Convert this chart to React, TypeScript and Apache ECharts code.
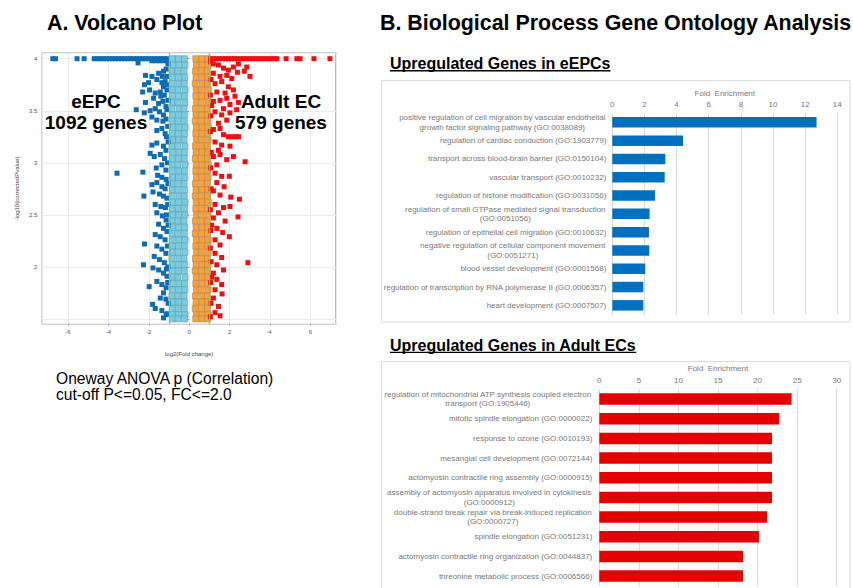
import React, { useEffect, useRef } from 'react';
import * as echarts from 'echarts';

const FONT = '"Liberation Sans", Arial, Helvetica, sans-serif';
const LABEL_GREY = '#787878';

// -log10(corrected p) is capped at this value, so the most significant genes sit on one row
const P_CAP = 4;
// |log2 fold change| threshold (FC 2.0)
const FC_CUTOFF_LOG2 = 1;

// genes up in eEPC at the p-value cap (log2 FC)
const eepcCapX = [-6.75, -6.62, -5.55, -5.2, -4.7, -4.55, -4.4, -4.25, -4.1, -3.95, -3.8, -3.65, -3.5, -3.35, -3.2,
  -3.05, -2.9, -2.75, -2.6, -2.45, -2.3, -2.15, -2.0, -1.85, -1.7, -1.55, -1.4, -1.25, -1.1];
// genes up in adult EC at the p-value cap (log2 FC)
const adultCapX = [1.06, 1.2, 1.35, 1.5, 1.65, 1.8, 1.95, 2.1, 2.25, 2.4, 2.55, 2.7, 2.85, 3.0, 3.15, 3.3, 3.45, 3.6,
  3.75, 3.9, 4.05, 4.2, 4.35, 4.8, 5.33, 5.49, 6.18, 6.97];

// [log2 FC, -log10 p] for significant eEPC genes below the cap
const eepcScatter = [
  [-2.53, 3.96], [-1.84, 3.98], [-1.63, 3.98], [-1.43, 3.98], [-1.19, 3.98], [-1.1, 3.99],
  [-2.16, 3.84], [-1.84, 3.83], [-1.51, 3.86], [-1.27, 3.88], [-1.14, 3.9], [-1.33, 3.83], [-1.1, 3.83],
  [-2.21, 3.75], [-2.01, 3.77], [-1.6, 3.8], [-1.35, 3.77], [-1.19, 3.78], [-1.27, 3.73],
  [-2.3, 3.68], [-1.96, 3.7], [-1.68, 3.67], [-1.43, 3.68], [-1.23, 3.65], [-1.1, 3.7],
  [-2.16, 3.58], [-1.76, 3.62], [-1.51, 3.57], [-1.3, 3.59], [-1.15, 3.54], [-1.4, 3.64],
  [-2.62, 3.51], [-2.22, 3.48], [-1.93, 3.5], [-1.68, 3.52], [-1.47, 3.49], [-1.27, 3.46], [-1.1, 3.51],
  [-1.84, 3.44], [-1.6, 3.41], [-1.3, 3.4], [-1.15, 3.42],
  [-1.6, 3.31], [-1.35, 3.33], [-1.19, 3.28],
  [-1.84, 3.17], [-1.6, 3.19], [-1.27, 3.16], [-1.15, 3.12],
  [-1.93, 3.09], [-1.73, 3.06], [-1.43, 3.08], [-1.22, 3.04],
  [-1.63, 2.95], [-1.35, 2.98], [-1.15, 2.93],
  [-3.57, 2.9], [-2.29, 2.91], [-1.56, 2.88], [-1.35, 2.86], [-1.14, 2.84],
  [-1.84, 2.79], [-1.6, 2.81], [-1.35, 2.77], [-1.19, 2.75],
  [-1.79, 2.72], [-1.47, 2.7], [-1.27, 2.68], [-2.24, 2.68], [-1.1, 2.66],
  [-1.68, 2.6], [-1.4, 2.58], [-1.17, 2.57],
  [-1.6, 2.52], [-1.33, 2.49], [-1.14, 2.45],
  [-1.51, 2.41], [-1.27, 2.37], [-1.1, 2.34],
  [-1.68, 2.31], [-1.43, 2.29], [-1.19, 2.26],
  [-2.21, 2.22], [-1.6, 2.2], [-1.35, 2.17], [-1.15, 2.13],
  [-1.73, 2.1], [-1.47, 2.07], [-1.23, 2.04],
  [-2.26, 2.02], [-1.79, 1.99], [-1.51, 1.97], [-1.27, 1.94], [-1.1, 1.91],
  [-1.6, 1.86], [-1.35, 1.83], [-1.14, 1.8],
  [-1.98, 1.81], [-1.27, 1.75], [-1.43, 1.7], [-1.15, 1.69],
  [-1.81, 1.64], [-1.68, 1.6], [-1.35, 1.58], [-1.14, 1.54], [-1.27, 1.51],
  [-1.05, 3.95], [-1.08, 3.75], [-1.05, 3.6], [-1.06, 3.35], [-1.04, 3.2], [-1.07, 3.0], [-1.05, 2.8],
  [-1.06, 2.6], [-1.04, 2.4], [-1.07, 2.2], [-1.05, 2.0], [-1.06, 1.85], [-1.04, 1.65], [-1.08, 1.55],
  [-1.12, 3.25], [-1.12, 2.5], [-1.12, 1.98],
];

// [log2 FC, -log10 p] for significant adult EC genes below the cap
const adultScatter = [
  [1.2, 3.95], [1.45, 3.94], [1.7, 3.91], [1.94, 3.89], [2.19, 3.92], [2.44, 3.95], [2.73, 3.88], [2.85, 3.92], [3.01, 3.83],
  [1.2, 3.86], [1.53, 3.83], [1.86, 3.84], [2.11, 3.81], [2.39, 3.87],
  [1.28, 3.76], [1.61, 3.78], [1.94, 3.73], [2.19, 3.7], [1.78, 3.67], [1.37, 3.68],
  [1.2, 3.59], [1.53, 3.6], [1.86, 3.62], [2.27, 3.64], [2.44, 3.58], [2.02, 3.56], [1.7, 3.52],
  [1.28, 3.49], [1.61, 3.46], [2.02, 3.48], [2.35, 3.51], [1.86, 3.41], [1.45, 3.38],
  [1.2, 3.32], [1.53, 3.33], [1.94, 3.25], [2.14, 3.25], [2.32, 3.25], [2.45, 3.25], [1.7, 3.27],
  [1.28, 3.2], [1.61, 3.17], [2.02, 3.16], [1.45, 3.12],
  [1.2, 3.06], [1.53, 3.08], [2.19, 3.06], [1.86, 3.03], [2.77, 3.01], [1.37, 2.98],
  [1.28, 2.9], [1.61, 2.87], [1.99, 2.87], [1.37, 2.81], [1.73, 2.77], [2.06, 2.67], [2.49, 2.65], [1.53, 2.69], [1.2, 2.73],
  [1.28, 2.6], [1.7, 2.57], [2.02, 2.58], [1.45, 2.52], [2.42, 2.48], [1.2, 2.47], [1.78, 2.44],
  [1.37, 2.37], [1.66, 2.33], [1.99, 2.29], [1.28, 2.26], [1.53, 2.21],
  [1.28, 2.13], [1.61, 2.09], [2.91, 2.04], [1.37, 2.02], [1.7, 1.97], [1.2, 1.94],
  [1.37, 1.88], [1.61, 1.83], [1.28, 1.78], [1.63, 1.74], [1.2, 1.7],
  [1.45, 1.62], [1.28, 1.56], [1.53, 1.53],
  [1.06, 3.97], [1.08, 3.8], [1.05, 3.65], [1.07, 3.45], [1.05, 3.3], [1.1, 3.1], [1.06, 2.95], [1.08, 2.75],
  [1.05, 2.55], [1.07, 2.35], [1.05, 2.18], [1.09, 2.05], [1.06, 1.85], [1.08, 1.65], [1.05, 1.52],
  [1.12, 3.55], [1.12, 2.4], [1.12, 1.9],
];

// genes below the fold-change cutoff, one row per -log10 p: [p, x1, x2, x3]
const lowFcDownRows = [
  [4.0, -0.83, -0.53, -0.23], [3.94, -0.8, -0.5, -0.21], [3.88, -0.85, -0.56, -0.25], [3.82, -0.81, -0.54, -0.22],
  [3.76, -0.84, -0.51, -0.24], [3.7, -0.82, -0.55, -0.2], [3.64, -0.83, -0.52, -0.23], [3.58, -0.8, -0.56, -0.21],
  [3.52, -0.85, -0.5, -0.25], [3.46, -0.81, -0.53, -0.22], [3.4, -0.84, -0.55, -0.24], [3.34, -0.82, -0.51, -0.2],
  [3.28, -0.83, -0.54, -0.23], [3.22, -0.8, -0.52, -0.25], [3.16, -0.85, -0.56, -0.21], [3.1, -0.81, -0.5, -0.22],
  [3.04, -0.84, -0.53, -0.24], [2.98, -0.82, -0.55, -0.2], [2.92, -0.83, -0.51, -0.23], [2.86, -0.8, -0.54, -0.21],
  [2.8, -0.85, -0.52, -0.25], [2.74, -0.81, -0.56, -0.22], [2.68, -0.84, -0.5, -0.24], [2.62, -0.82, -0.53, -0.2],
  [2.56, -0.83, -0.55, -0.23], [2.5, -0.8, -0.51, -0.21], [2.44, -0.85, -0.54, -0.25], [2.38, -0.81, -0.52, -0.22],
  [2.32, -0.84, -0.56, -0.24], [2.26, -0.82, -0.5, -0.2], [2.2, -0.83, -0.53, -0.23], [2.14, -0.8, -0.55, -0.21],
  [2.08, -0.85, -0.51, -0.25], [2.02, -0.81, -0.54, -0.22], [1.96, -0.84, -0.52, -0.24], [1.9, -0.82, -0.56, -0.2],
  [1.84, -0.83, -0.5, -0.23], [1.78, -0.8, -0.53, -0.21], [1.72, -0.85, -0.55, -0.25], [1.66, -0.81, -0.51, -0.22],
  [1.6, -0.84, -0.54, -0.24], [1.54, -0.82, -0.52, -0.2], [1.5, -0.83, -0.56, -0.23],
];
const lowFcUpRows = [
  [4.0, 0.33, 0.63, 0.92], [3.94, 0.36, 0.65, 0.94], [3.88, 0.31, 0.6, 0.9], [3.82, 0.34, 0.62, 0.93],
  [3.76, 0.3, 0.64, 0.91], [3.7, 0.35, 0.61, 0.95], [3.64, 0.33, 0.63, 0.92], [3.58, 0.36, 0.6, 0.94],
  [3.52, 0.31, 0.65, 0.9], [3.46, 0.34, 0.62, 0.93], [3.4, 0.3, 0.61, 0.91], [3.34, 0.35, 0.64, 0.95],
  [3.28, 0.33, 0.62, 0.92], [3.22, 0.36, 0.6, 0.94], [3.16, 0.31, 0.65, 0.9], [3.1, 0.34, 0.63, 0.93],
  [3.04, 0.3, 0.61, 0.91], [2.98, 0.35, 0.64, 0.95], [2.92, 0.33, 0.6, 0.92], [2.86, 0.36, 0.62, 0.94],
  [2.8, 0.31, 0.65, 0.9], [2.74, 0.34, 0.63, 0.93], [2.68, 0.3, 0.61, 0.91], [2.62, 0.35, 0.64, 0.95],
  [2.56, 0.33, 0.62, 0.92], [2.5, 0.36, 0.6, 0.94], [2.44, 0.31, 0.65, 0.9], [2.38, 0.34, 0.63, 0.93],
  [2.32, 0.3, 0.61, 0.91], [2.26, 0.35, 0.64, 0.95], [2.2, 0.33, 0.62, 0.92], [2.14, 0.36, 0.6, 0.94],
  [2.08, 0.31, 0.65, 0.9], [2.02, 0.34, 0.63, 0.93], [1.96, 0.3, 0.61, 0.91], [1.9, 0.35, 0.64, 0.95],
  [1.84, 0.33, 0.62, 0.92], [1.78, 0.36, 0.6, 0.94], [1.72, 0.31, 0.65, 0.9], [1.66, 0.34, 0.63, 0.93],
  [1.6, 0.3, 0.61, 0.91], [1.54, 0.35, 0.64, 0.95], [1.5, 0.33, 0.62, 0.92],
];

// GO biological process terms, upregulated in eEPCs
const eepcTerms = [
  'positive regulation of cell migration by vascular endothelial\ngrowth factor signaling pathway (GO:0038089)',
  'regulation of cardiac conduction (GO:1903779)',
  'transport across blood-brain barrier (GO:0150104)',
  'vascular transport (GO:0010232)',
  'regulation of histone modification (GO:0031056)',
  'regulation of small GTPase mediated signal transduction\n(GO:0051056)',
  'regulation of epithelial cell migration (GO:0010632)',
  'negative regulation of cellular component movement\n(GO:0051271)',
  'blood vessel development (GO:0001568)',
  'regulation of transcription by RNA polymerase II (GO:0006357)',
  'heart development (GO:0007507)',
];
const eepcEnrichment = [12.71, 4.4, 3.3, 3.26, 2.66, 2.32, 2.28, 2.3, 2.05, 1.93, 1.93];
const eepcTicks = { max: 14, step: 2 };

// GO biological process terms, upregulated in adult ECs
const adultTerms = [
  'regulation of mitochondrial ATP synthesis coupled electron\ntransport (GO:1905446)',
  'mitotic spindle elongation (GO:0000022)',
  'response to ozone (GO:0010193)',
  'mesangial cell development (GO:0072144)',
  'actomyosin contractile ring assembly (GO:0000915)',
  'assembly of actomyosin apparatus involved in cytokinesis\n(GO:0000912)',
  'double-strand break repair via break-induced replication\n(GO:0000727)',
  'spindle elongation (GO:0051231)',
  'actomyosin contractile ring organization (GO:0044837)',
  'threonine metabolic process (GO:0006566)',
];
const adultEnrichment = [24.3, 22.74, 21.82, 21.82, 21.82, 21.82, 21.19, 20.18, 18.17, 18.17];
const adultTicks = { max: 30, step: 5 };

const groupLabels = [
  { name: 'eEPC', genes: 1092 },
  { name: 'Adult EC', genes: 579 },
];

const measure = (() => {
  const ctx = document.createElement('canvas').getContext('2d') as CanvasRenderingContext2D;
  return (text: string, font: string) => {
    ctx.font = font;
    return ctx.measureText(text).width;
  };
})();

const toPairs = (rows: number[][]) => rows.flatMap(([y, ...xs]) => xs.map((x) => [x, y]));
const capRow = (xs: number[]) => xs.map((x) => [x, P_CAP]);

// Category labels: wrapped terms keep their lines centred on each other, block right-aligned to the axis
function termLabels(terms: string[], key: string, margin: number) {
  const rich: Record<string, any> = {};
  terms.forEach((t, i) => {
    const lines = t.split('\n');
    if (lines.length > 1) {
      const w = Math.max(...lines.map((l) => measure(l, `8px ${FONT}`)));
      rich[key + i] = { width: Math.ceil(w) + 1, align: 'center', fontSize: 8, color: LABEL_GREY, fontFamily: FONT, lineHeight: 9.5 };
    }
  });
  return {
    interval: 0,
    margin,
    fontSize: 8,
    lineHeight: 9.5,
    color: LABEL_GREY,
    fontFamily: FONT,
    rich,
    formatter: (value: string, index: number) => {
      const lines = value.split('\n');
      return lines.length > 1 ? lines.map((l) => `{${key}${index}|${l}}`).join('\n') : value;
    },
  };
}

function enrichmentAxis(gridIndex: number, ticks: { max: number; step: number }, nameGap: number) {
  return {
    gridIndex,
    type: 'value',
    position: 'top',
    min: 0,
    max: ticks.max,
    interval: ticks.step,
    name: 'Fold  Enrichment',
    nameLocation: 'middle',
    nameGap,
    nameTextStyle: { fontSize: 8, color: LABEL_GREY, fontFamily: FONT },
    axisLine: { show: false },
    axisTick: { show: false },
    axisLabel: { fontSize: 8, color: LABEL_GREY, margin: 5, fontFamily: FONT },
    splitLine: { show: true, lineStyle: { color: '#d9d9d9', width: 1 } },
  };
}

function buildOption() {
  const subtitleFont = `bold 16px ${FONT}`;
  const sub1 = 'Upregulated Genes in eEPCs';
  const sub2 = 'Upregulated Genes in Adult ECs';
  const w1 = measure(sub1, subtitleFont);
  const w2 = measure(sub2, subtitleFont);

  const text = (x: number, y: number, s: string, font: string, align = 'left') => ({
    type: 'text',
    x,
    y,
    z: 20,
    silent: true,
    style: { text: s, font, fill: '#000', align, verticalAlign: 'middle' },
  });

  return {
    animation: false,
    backgroundColor: '#ffffff',
    textStyle: { fontFamily: FONT },
    grid: [
      { left: 42.3, top: 53.3, width: 293.7, height: 270.4, show: true, borderColor: '#a3a3a3', borderWidth: 1.5, backgroundColor: 'transparent', outerBoundsMode: 'none' },
      { left: 612.3, top: 113.2, width: 225, height: 201.3, outerBoundsMode: 'none' },
      { left: 599.3, top: 389.2, width: 237.4, height: 196.7, outerBoundsMode: 'none' },
    ],
    xAxis: [
      {
        gridIndex: 0,
        type: 'value',
        min: -7.27,
        max: 7.27,
        splitNumber: 7,
        name: 'log2(Fold change)',
        nameLocation: 'middle',
        nameGap: 27,
        nameTextStyle: { fontSize: 6, color: '#444' },
        axisLine: { show: false },
        axisTick: { show: true, length: 2, lineStyle: { color: '#999' } },
        axisLabel: { fontSize: 6, color: '#555', margin: 5, showMinLabel: false, showMaxLabel: false },
        splitLine: { show: true, lineStyle: { color: '#ebebeb', width: 1 } },
      },
      enrichmentAxis(1, eepcTicks, 16),
      enrichmentAxis(2, adultTicks, 17),
    ],
    yAxis: [
      {
        gridIndex: 0,
        type: 'value',
        min: 1.454,
        max: 4.052,
        splitNumber: 5,
        name: '-log10(correctedPvalue)',
        nameLocation: 'middle',
        nameGap: 22.6,
        nameTextStyle: { fontSize: 6, color: '#444' },
        axisLine: { show: false },
        axisTick: { show: true, length: 2, lineStyle: { color: '#999' } },
        axisLabel: {
          fontSize: 6,
          color: '#555',
          margin: 5,
          showMinLabel: false,
          showMaxLabel: false,
          formatter: (v: number) => (v >= 1.9 ? String(v) : ''),
        },
        splitLine: { show: true, lineStyle: { color: '#ebebeb', width: 1 } },
      },
      {
        gridIndex: 1,
        type: 'category',
        inverse: true,
        data: eepcTerms,
        axisLine: { show: false },
        axisTick: { show: false },
        axisLabel: termLabels(eepcTerms, 'e', 6),
      },
      {
        gridIndex: 2,
        type: 'category',
        inverse: true,
        data: adultTerms,
        axisLine: { show: false },
        axisTick: { show: false },
        axisLabel: termLabels(adultTerms, 'a', 7),
      },
    ],
    series: [
      {
        name: 'low FC (eEPC side)',
        type: 'scatter',
        xAxisIndex: 0,
        yAxisIndex: 0,
        symbol: 'rect',
        symbolSize: 6,
        data: toPairs(lowFcDownRows),
        itemStyle: { color: '#78cde0', borderColor: '#6a9aa8', borderWidth: 0.6, opacity: 1 },
        silent: true,
      },
      {
        name: 'low FC (adult EC side)',
        type: 'scatter',
        xAxisIndex: 0,
        yAxisIndex: 0,
        symbol: 'rect',
        symbolSize: 6,
        data: toPairs(lowFcUpRows),
        itemStyle: { color: '#f5a23e', borderColor: '#b8844c', borderWidth: 0.6, opacity: 1 },
        silent: true,
      },
      {
        name: 'eEPC',
        type: 'scatter',
        xAxisIndex: 0,
        yAxisIndex: 0,
        symbol: 'rect',
        symbolSize: 5,
        data: [...capRow(eepcCapX), ...eepcScatter],
        itemStyle: { color: '#0f6cb2', opacity: 1 },
        silent: true,
      },
      {
        name: 'Adult EC',
        type: 'scatter',
        xAxisIndex: 0,
        yAxisIndex: 0,
        symbol: 'rect',
        symbolSize: 5,
        data: [...capRow(adultCapX), ...adultScatter],
        itemStyle: { color: '#f00f0f', opacity: 1 },
        silent: true,
        markLine: {
          silent: true,
          symbol: 'none',
          label: { show: false },
          lineStyle: { color: '#78c878', width: 1.3, type: 'solid' },
          data: [{ xAxis: -FC_CUTOFF_LOG2 }, { xAxis: FC_CUTOFF_LOG2 }],
        },
      },
      {
        name: 'eEPC enrichment',
        type: 'bar',
        xAxisIndex: 1,
        yAxisIndex: 1,
        data: eepcEnrichment,
        barWidth: 10.5,
        itemStyle: { color: '#0070c0' },
        silent: true,
      },
      {
        name: 'Adult EC enrichment',
        type: 'bar',
        xAxisIndex: 2,
        yAxisIndex: 2,
        data: adultEnrichment,
        barWidth: 11.5,
        itemStyle: { color: '#e40000' },
        silent: true,
      },
    ],
    graphic: [
      text(47, 22.5, 'A. Volcano Plot', `bold 21.4px ${FONT}`),
      text(380, 22.5, 'B. Biological Process Gene Ontology Analysis', `bold 21.4px ${FONT}`),
      text(96, 101, groupLabels[0].name, `bold 19px ${FONT}`, 'center'),
      text(96, 122, `${groupLabels[0].genes} genes`, `bold 19px ${FONT}`, 'center'),
      text(281, 101, groupLabels[1].name, `bold 19px ${FONT}`, 'center'),
      text(281, 122, `${groupLabels[1].genes} genes`, `bold 19px ${FONT}`, 'center'),
      text(56, 378, 'Oneway ANOVA p (Correlation)', `15.6px ${FONT}`),
      text(56, 394.5, `cut-off P<=0.05, FC<=${Math.pow(2, FC_CUTOFF_LOG2).toFixed(1)}`, `15.6px ${FONT}`),
      text(390, 63.5, sub1, subtitleFont),
      { type: 'line', silent: true, z: 20, shape: { x1: 390, y1: 70.8, x2: 390 + w1, y2: 70.8 }, style: { stroke: '#000', lineWidth: 1.4 } },
      text(390, 345.3, sub2, subtitleFont),
      { type: 'line', silent: true, z: 20, shape: { x1: 390, y1: 352.4, x2: 390 + w2, y2: 352.4 }, style: { stroke: '#000', lineWidth: 1.4 } },
      { type: 'rect', silent: true, shape: { x: 381.5, y: 80.5, width: 468.5, height: 241.5 }, style: { fill: 'none', stroke: '#dcdcdc', lineWidth: 1 } },
      { type: 'rect', silent: true, shape: { x: 381.5, y: 361.5, width: 468.5, height: 240 }, style: { fill: 'none', stroke: '#dcdcdc', lineWidth: 1 } },
    ],
  };
}

export default function App() {
  const ref = useRef<HTMLDivElement>(null);
  useEffect(() => {
    if (!ref.current) return;
    const chart = echarts.init(ref.current, undefined, { renderer: 'svg' });
    chart.setOption(buildOption() as any);
    return () => chart.dispose();
  }, []);
  return (
    <div
      ref={ref}
      style={{ position: 'absolute', left: 0, top: 0, width: 853, height: 588, background: '#fff' }}
    />
  );
}
